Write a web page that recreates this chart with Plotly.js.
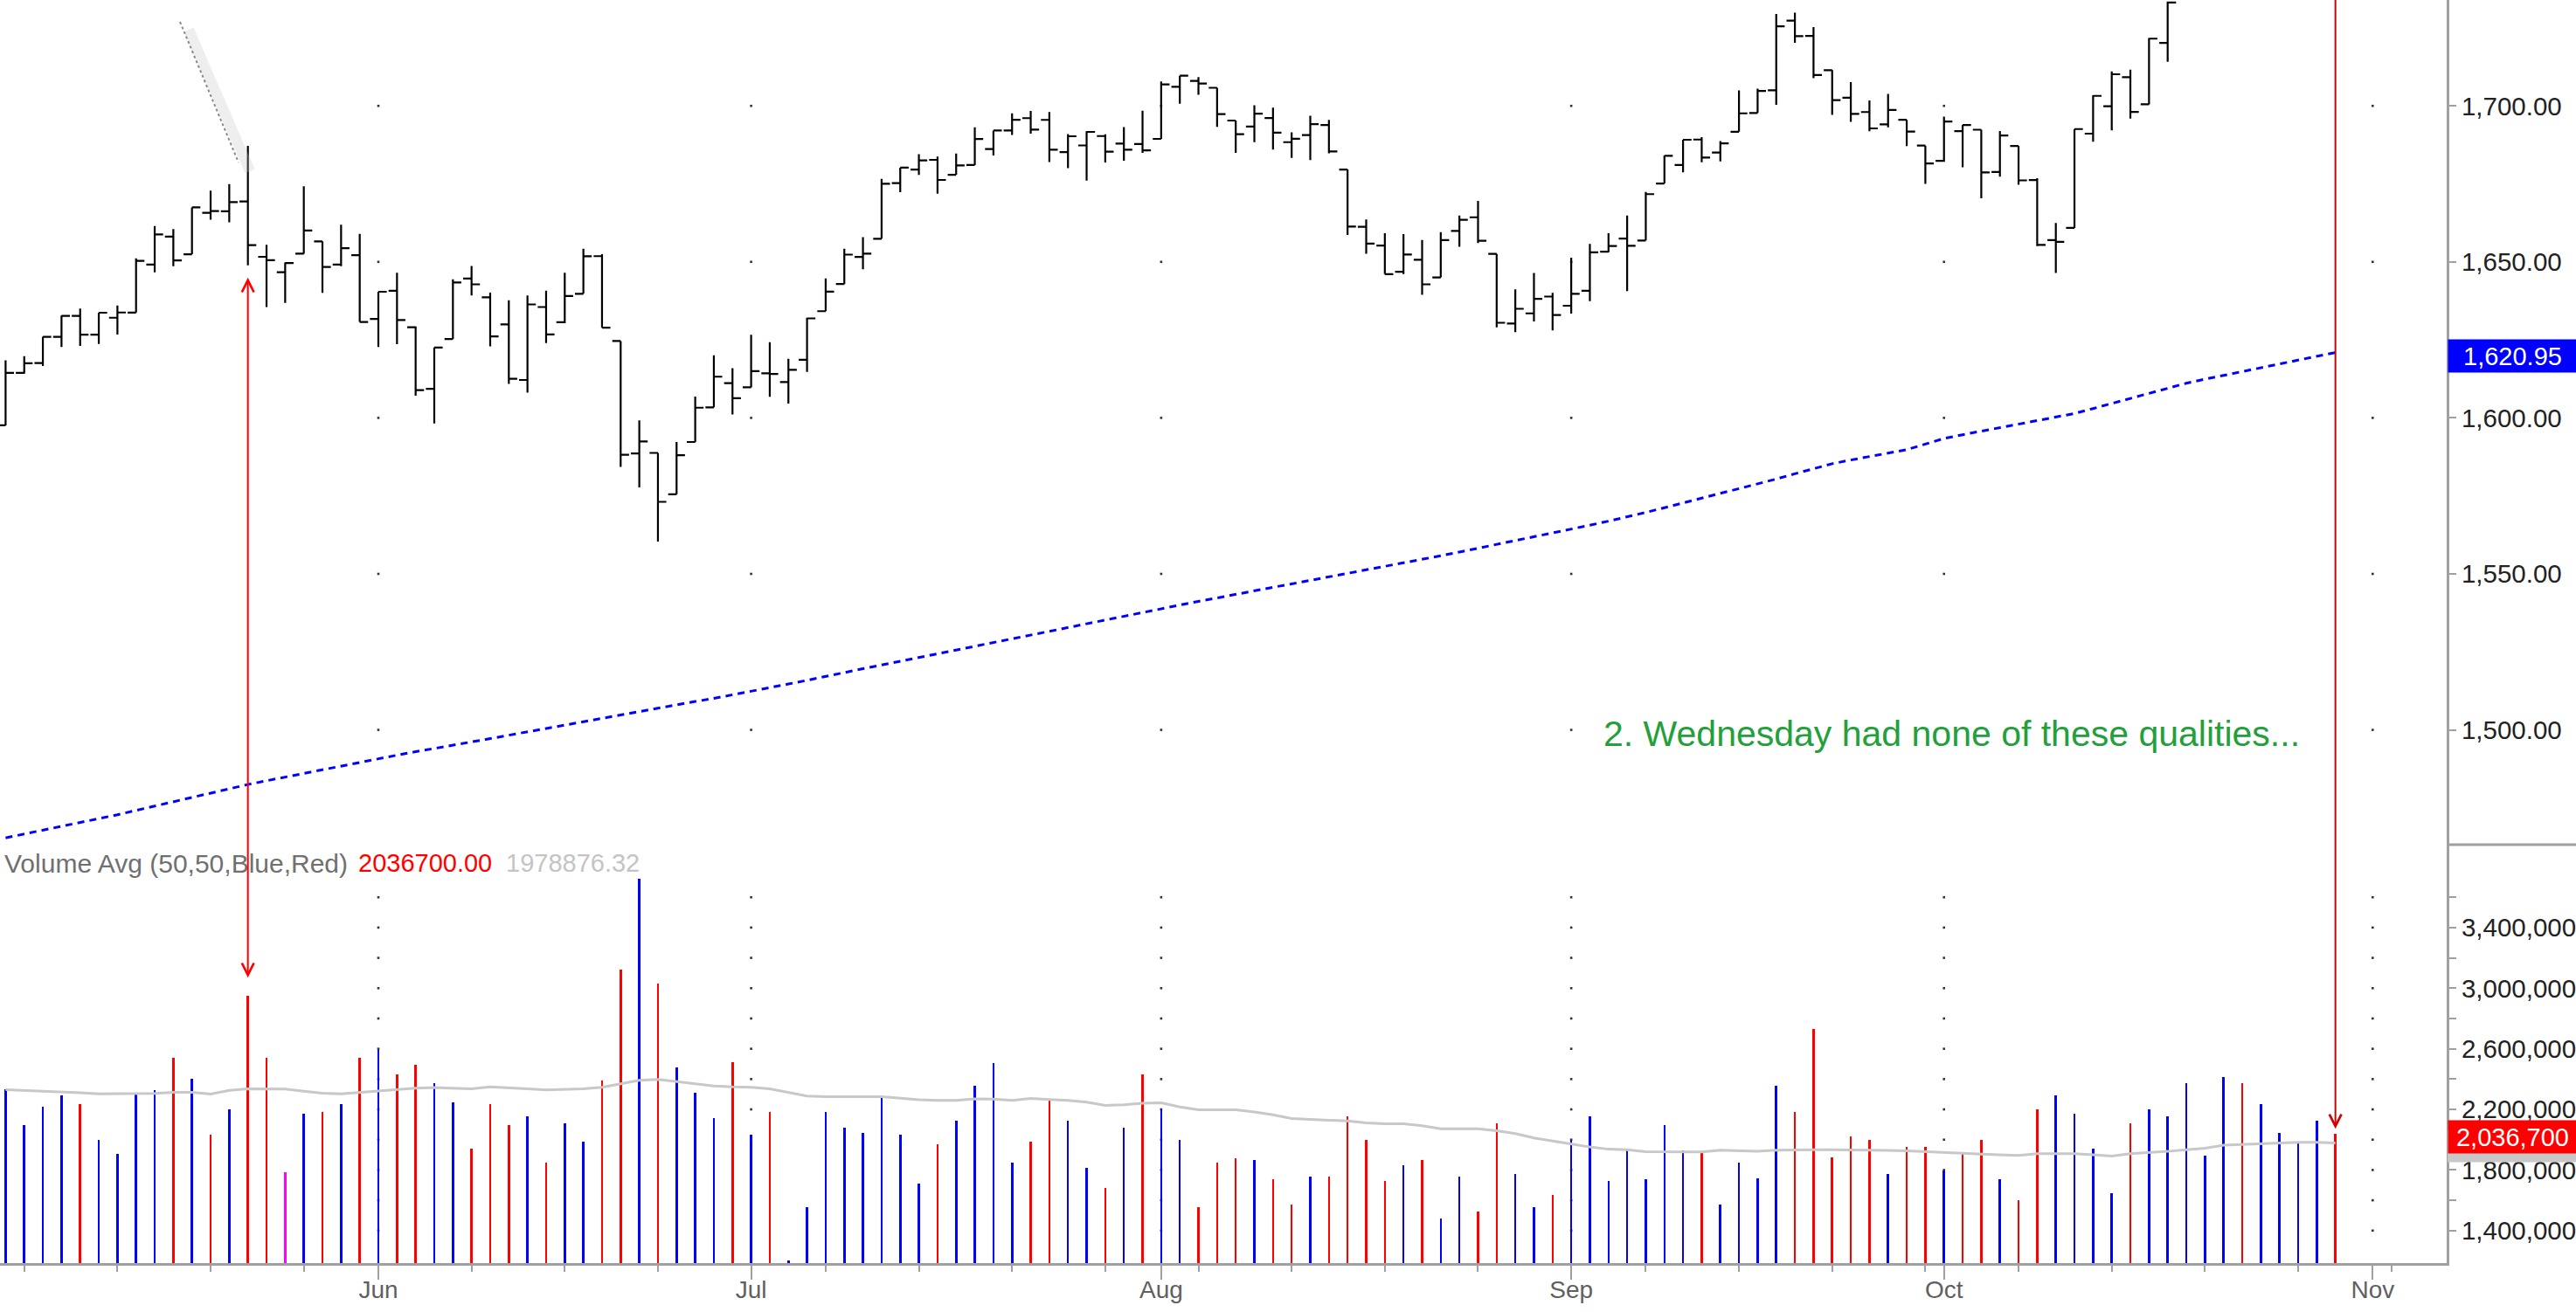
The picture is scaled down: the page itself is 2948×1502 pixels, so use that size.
<!DOCTYPE html>
<html><head><meta charset="utf-8">
<script src="https://cdn.plot.ly/plotly-3.0.1.min.js"></script>
<style>html,body{margin:0;padding:0;background:#fff}#chart{width:2948px;height:1502px}</style>
</head><body><div id="chart"></div>
<script>
// ---------- DATA ----------
const sessions = [
'2013-05-03','2013-05-06','2013-05-07','2013-05-08','2013-05-09','2013-05-10','2013-05-13','2013-05-14','2013-05-15','2013-05-16','2013-05-17','2013-05-20','2013-05-21','2013-05-22','2013-05-23','2013-05-24','2013-05-28','2013-05-29','2013-05-30','2013-05-31',
'2013-06-03','2013-06-04','2013-06-05','2013-06-06','2013-06-07','2013-06-10','2013-06-11','2013-06-12','2013-06-13','2013-06-14','2013-06-17','2013-06-18','2013-06-19','2013-06-20','2013-06-21','2013-06-24','2013-06-25','2013-06-26','2013-06-27','2013-06-28',
'2013-07-01','2013-07-02','2013-07-03','2013-07-05','2013-07-08','2013-07-09','2013-07-10','2013-07-11','2013-07-12','2013-07-15','2013-07-16','2013-07-17','2013-07-18','2013-07-19','2013-07-22','2013-07-23','2013-07-24','2013-07-25','2013-07-26','2013-07-29','2013-07-30','2013-07-31',
'2013-08-01','2013-08-02','2013-08-05','2013-08-06','2013-08-07','2013-08-08','2013-08-09','2013-08-12','2013-08-13','2013-08-14','2013-08-15','2013-08-16','2013-08-19','2013-08-20','2013-08-21','2013-08-22','2013-08-23','2013-08-26','2013-08-27','2013-08-28','2013-08-29','2013-08-30',
'2013-09-03','2013-09-04','2013-09-05','2013-09-06','2013-09-09','2013-09-10','2013-09-11','2013-09-12','2013-09-13','2013-09-16','2013-09-17','2013-09-18','2013-09-19','2013-09-20','2013-09-23','2013-09-24','2013-09-25','2013-09-26','2013-09-27','2013-09-30',
'2013-10-01','2013-10-02','2013-10-03','2013-10-04','2013-10-07','2013-10-08','2013-10-09','2013-10-10','2013-10-11','2013-10-14','2013-10-15','2013-10-16','2013-10-17','2013-10-18','2013-10-21','2013-10-22','2013-10-23','2013-10-24','2013-10-25','2013-10-28','2013-10-29','2013-10-30'];
const futureSessions = ['2013-10-31','2013-11-01','2013-11-04'];
const monthLabels = ['Jun','Jul','Aug','Sep','Oct','Nov'];

const open = [1597.60,1614.40,1617.55,1625.95,1632.69,1626.69,1632.10,1633.75,1649.13,1658.07,
1652.45,1665.71,1666.20,1669.39,1651.62,1646.67,1652.63,1656.57,1649.14,1652.13,
1631.71,1640.73,1629.05,1609.29,1625.27,1644.67,1638.64,1629.94,1612.15,1635.52,
1630.64,1639.77,1651.83,1624.62,1588.62,1588.77,1575.53,1592.27,1603.39,1611.12,
1609.78,1614.29,1611.48,1618.65,1634.20,1642.89,1651.56,1657.41,1675.26,1679.59,
1682.70,1677.91,1681.05,1686.15,1692.09,1696.06,1695.50,1685.21,1687.31,1690.32,
1687.92,1687.76,1689.42,1706.10,1708.01,1705.79,1695.30,1693.35,1696.10,1688.37,
1690.65,1693.88,1679.61,1661.22,1655.25,1646.81,1650.66,1645.03,1659.92,1664.29,
1652.54,1630.25,1633.50,1638.89,1635.95,1640.72,1653.28,1657.44,1656.85,1675.11,
1681.04,1689.21,1685.04,1691.70,1697.73,1704.97,1727.34,1722.44,1711.44,1702.60,
1698.02,1694.05,1695.52,1687.26,1682.41,1691.90,1692.35,1678.79,1687.15,1676.22,
1656.99,1660.88,1691.09,1699.86,1709.17,1700.49,1720.17,1736.72,1745.20,1746.48,
1752.27,1747.48,1756.01,1759.42,1762.93,1772.27];
const high = [1618.46,1619.77,1626.03,1632.78,1635.01,1633.70,1636.00,1651.10,1661.49,1660.51,
1667.47,1672.84,1674.93,1687.18,1655.50,1649.78,1674.21,1656.57,1661.91,1658.99,
1640.42,1646.53,1629.31,1622.56,1644.40,1648.69,1640.13,1637.71,1639.25,1640.80,
1646.50,1654.19,1652.45,1624.62,1599.19,1588.77,1592.28,1606.83,1620.07,1615.94,
1626.61,1624.26,1618.97,1632.07,1644.68,1654.18,1657.92,1676.63,1680.19,1684.51,
1683.73,1684.75,1693.12,1692.09,1697.61,1698.38,1698.00,1690.94,1691.85,1690.92,
1693.19,1698.43,1707.85,1709.67,1709.24,1705.79,1695.30,1700.18,1699.42,1691.49,
1696.81,1695.52,1679.61,1663.60,1659.18,1658.92,1656.99,1659.55,1664.85,1669.51,
1652.54,1641.18,1646.41,1640.08,1651.35,1655.72,1659.17,1664.83,1672.40,1684.09,
1689.13,1689.97,1688.73,1704.95,1705.52,1729.44,1729.86,1725.23,1711.44,1707.63,
1701.71,1703.85,1695.52,1687.26,1696.55,1693.87,1692.35,1691.94,1687.15,1676.79,
1662.47,1692.56,1703.44,1711.03,1711.57,1721.76,1733.45,1745.31,1747.79,1759.33,
1752.27,1753.94,1759.82,1764.99,1772.09,1775.22];
const low = [1597.60,1614.21,1616.64,1622.70,1623.09,1623.71,1626.74,1633.75,1646.68,1648.60,
1652.45,1663.52,1662.67,1648.86,1635.53,1636.88,1652.63,1640.05,1648.61,1630.74,
1622.72,1623.62,1607.09,1598.23,1625.27,1639.26,1622.92,1610.92,1608.07,1623.96,
1630.34,1639.77,1628.91,1584.32,1577.70,1560.33,1575.53,1592.27,1603.39,1601.06,
1609.78,1606.77,1604.57,1614.71,1634.20,1642.89,1647.66,1657.41,1672.33,1677.89,
1671.84,1677.91,1681.05,1684.08,1690.67,1691.13,1682.00,1680.07,1676.03,1681.86,
1682.42,1684.94,1689.42,1700.68,1703.55,1693.29,1684.91,1688.38,1686.02,1683.35,
1682.62,1684.83,1658.59,1652.61,1646.06,1646.08,1639.43,1645.03,1654.81,1656.02,
1629.05,1627.47,1630.88,1628.05,1633.41,1637.41,1653.07,1640.62,1656.85,1675.11,
1678.70,1681.96,1682.22,1691.70,1697.73,1700.35,1720.20,1708.89,1697.10,1694.90,
1691.88,1693.11,1687.11,1674.99,1682.07,1680.34,1670.36,1677.33,1674.70,1655.03,
1646.47,1660.88,1688.52,1692.13,1695.93,1700.49,1714.12,1735.74,1740.67,1746.48,
1740.50,1745.50,1752.45,1757.67,1762.93,1757.24];
const close = [1614.42,1617.50,1625.96,1632.69,1626.67,1633.70,1633.77,1650.34,1658.78,1650.47,
1667.47,1666.29,1669.16,1655.35,1650.51,1649.60,1660.06,1648.36,1654.41,1630.74,
1640.42,1631.38,1608.90,1622.56,1643.38,1642.81,1626.13,1612.52,1636.36,1626.73,
1639.04,1651.81,1628.93,1588.19,1592.43,1573.09,1588.03,1603.26,1613.20,1606.28,
1614.96,1614.08,1615.41,1631.89,1640.46,1652.32,1652.62,1675.02,1680.19,1682.50,
1676.26,1680.91,1689.37,1692.09,1695.53,1692.39,1685.94,1690.25,1691.65,1685.33,
1685.96,1685.73,1706.87,1709.67,1707.14,1697.37,1690.91,1697.48,1691.42,1689.47,
1694.16,1685.39,1661.32,1655.83,1646.06,1652.35,1642.80,1656.96,1663.50,1656.78,
1630.48,1634.96,1638.17,1632.97,1639.77,1653.08,1655.08,1655.17,1671.71,1683.99,
1689.13,1683.42,1687.99,1697.60,1704.76,1725.52,1722.34,1709.91,1701.84,1697.42,
1692.77,1698.67,1691.75,1681.55,1695.00,1693.87,1678.66,1690.50,1676.12,1655.45,
1656.40,1692.56,1703.20,1710.14,1698.06,1721.54,1733.15,1744.50,1744.66,1754.67,
1746.38,1752.07,1759.77,1762.11,1771.95,1763.31];

// long moving average of price (blue dotted)
const priceMA = [1465.4,1466.6,1467.8,1469.0,1470.2,1471.4,1472.8,1474.2,1475.6,1477.0,
1478.4,1479.8,1481.2,1482.5,1483.7,1484.9,1486.1,1487.3,1488.5,1489.6,
1490.8,1491.9,1493.0,1494.0,1495.1,1496.2,1497.2,1498.3,1499.4,1500.5,
1501.5,1502.6,1503.7,1504.8,1505.8,1506.9,1508.0,1509.1,1510.1,1511.2,
1512.3,1513.5,1514.7,1515.9,1517.2,1518.4,1519.6,1520.8,1522.0,1523.2,
1524.5,1525.7,1526.9,1528.1,1529.3,1530.5,1531.8,1533.0,1534.2,1535.4,
1536.6,1537.8,1539.0,1540.1,1541.2,1542.3,1543.5,1544.6,1545.7,1546.8,
1547.9,1549.0,1550.1,1551.3,1552.4,1553.5,1554.6,1555.8,1557.0,1558.2,
1559.5,1560.7,1561.9,1563.1,1564.3,1565.6,1566.9,1568.2,1569.7,1571.2,
1572.7,1574.2,1575.8,1577.3,1578.8,1580.4,1582.1,1583.7,1585.3,1586.5,
1587.6,1588.7,1589.8,1591.6,1593.4,1594.6,1595.7,1596.9,1598.1,1599.2,
1600.3,1601.4,1603.0,1604.6,1606.2,1607.8,1609.5,1611.1,1612.4,1613.6,
1614.8,1616.0,1617.3,1618.5,1619.7,1620.95];

const volume = [2330000,2094000,2218000,2295000,2233000,1999000,1908000,2309000,2326000,2539000,
2404000,2032000,2202000,2952000,2539000,1784000,2171000,2185000,2233000,2539000,
2594000,2433000,2495000,2371000,2247000,1941000,2233000,2094000,2156000,1851000,
2109000,1987000,2388000,3125000,3725000,3033000,2477000,2309000,2140000,2512000,
2032000,2185000,1200000,1555000,2185000,2078000,2047000,2280000,2032000,1710000,
1970000,2125000,2357000,2508000,1851000,1985000,2268000,2125000,1815000,1679000,
2078000,2433000,2202000,1999000,1557000,1851000,1879000,1865000,1741000,1572000,
1757000,1757000,2156000,1999000,1726000,1834000,1865000,1479000,1757000,1526000,
2109000,1772000,1557000,1634000,1999000,2156000,1726000,1927000,1741000,2094000,
1927000,1912000,1572000,1851000,1743000,2357000,2185000,2729000,1881000,2020000,
2001000,1772000,1954000,1954000,1799000,1912000,2001000,1741000,1603000,2202000,
2295000,2171000,1939000,1648000,2109000,2202000,2156000,2371000,1892000,2415000,
2371000,2233000,2047000,1985000,2125000,2036700];
// b = up (blue), r = down (red), m = magenta
const volumeDir = ['b','b','b','b','r','b','b','b','b','r',
'b','r','b','r','r','m','b','r','b','r',
'b','r','r','b','b','r','r','r','b','r',
'b','b','r','r','b','r','b','b','b','r',
'b','r','b','b','b','b','b','b','b','b',
'r','b','b','b','b','r','r','b','b','r',
'b','r','b','b','r','r','r','b','r','r',
'b','r','r','r','r','b','r','b','b','r',
'r','b','b','r','b','b','b','b','b','b',
'b','r','b','b','b','b','r','r','r','r',
'r','b','r','r','b','r','r','b','r','r',
'b','b','b','b','r','b','b','b','b','b',
'r','b','b','b','b','r'];
const volumeAvg = [2329800,2325700,2321600,2317400,2309200,2303000,2303000,2305100,2305100,2313300,
2313300,2300900,2325700,2336000,2336000,2334000,2319500,2307100,2303000,2313300,
2323600,2334000,2340200,2344300,2342200,2336000,2348500,2344300,2336000,2327800,
2331900,2336000,2346400,2367000,2391900,2398000,2383600,2369100,2354700,2348500,
2346400,2336000,2311200,2288500,2284400,2284400,2286400,2284400,2274000,2263700,
2259600,2259600,2269900,2267900,2259600,2272000,2265800,2259600,2247200,2226500,
2230700,2241000,2243100,2216200,2197600,2197600,2197600,2183100,2164500,2139700,
2133500,2129400,2123200,2110800,2104600,2104600,2092200,2071600,2071600,2071600,
2059200,2040600,2011600,1990900,1974400,1951700,1937200,1933100,1920700,1918700,
1918700,1918700,1930900,1928900,1922800,1930900,1933100,1933100,1933100,1933100,
1933100,1928900,1926900,1922800,1916600,1910400,1904200,1900000,1895900,1908300,
1908300,1908300,1900000,1891800,1908300,1914500,1922800,1933100,1943400,1964100,
1968200,1974400,1980600,1982700,1982700,1978876.32];

const priceTicks = [1500, 1550, 1600, 1650, 1700];
const volumeTicks = [1400000, 1800000, 2200000, 2600000, 3000000, 3400000];
const volumeMinorTicks = [1600000, 2000000, 2400000, 2800000, 3200000, 3600000];
const markedDay = '2013-05-22';
const noteText = '2. Wednesday had none of these qualities...';

// ---------- DERIVED ----------
const idx = sessions.map((d, i) => i);
const axisDates = sessions.concat(futureSessions);
const monthIdx = [], weekIdx = [];
axisDates.forEach((d, i) => {
  if (i === 0) return;
  const p = axisDates[i - 1];
  if (d.slice(5, 7) !== p.slice(5, 7)) monthIdx.push(i);
  const wd = new Date(d + 'T12:00:00Z').getUTCDay(), wp = new Date(p + 'T12:00:00Z').getUTCDay();
  if (wd < wp) weekIdx.push(i);
});
const dirColor = {b: '#0000ff', r: '#ff0000', m: '#ff00ff'};
const barColors = volumeDir.map(c => dirColor[c]);
const fmtP = v => v.toLocaleString('en-US', {minimumFractionDigits: 2, maximumFractionDigits: 2});
const fmtV = v => Math.round(v).toLocaleString('en-US');
const last = sessions.length - 1;
const mIdx = sessions.indexOf(markedDay);

const FONT = 'Liberation Sans, Arial, sans-serif';
const W = 2948, H = 1502, PR = 2800, PB = 1446; // plot area: x 0..2800, y 0..1446
const PX = x => x / PR, PY = y => (PB - y) / PB; // paper coords are relative to the plot area
const SPLIT = PY(967);
const VPP = (3947146 - 1185523) / (PB - 967); // volume units per pixel

const traces = [
  {type: 'bar', x: idx, y: volume, xaxis: 'x', yaxis: 'y2', width: 0.12,
   marker: {color: barColors, line: {width: 0}}, hoverinfo: 'skip', showlegend: false},
  {type: 'scatter', mode: 'lines', x: idx, y: volumeAvg, xaxis: 'x', yaxis: 'y2',
   line: {color: '#c8c8c8', width: 3}, hoverinfo: 'skip', showlegend: false},
  {type: 'ohlc', x: idx, open: open, high: high, low: low, close: close, xaxis: 'x', yaxis: 'y',
   increasing: {line: {color: '#000000', width: 2.2}}, decreasing: {line: {color: '#000000', width: 2.2}},
   tickwidth: 0.45, hoverinfo: 'skip', showlegend: false},
  {type: 'scatter', mode: 'lines', x: idx, y: priceMA, xaxis: 'x', yaxis: 'y',
   line: {color: '#0000ff', width: 3, dash: '8px,6px'}, hoverinfo: 'skip', showlegend: false}
];

// dotted grid: dots at month columns x price/volume levels
const shapes = [];
monthIdx.forEach(m => {
  priceTicks.forEach(p => shapes.push({type: 'rect', layer: 'below', xref: 'x', yref: 'y',
    xsizemode: 'pixel', ysizemode: 'pixel', xanchor: m, yanchor: p, x0: -1.3, x1: 1.3, y0: -1.3, y1: 1.3,
    fillcolor: '#333', line: {width: 0}}));
  volumeTicks.concat(volumeMinorTicks).forEach(v => shapes.push({type: 'rect', layer: 'below', xref: 'x', yref: 'y2',
    xsizemode: 'pixel', ysizemode: 'pixel', xanchor: m, yanchor: v, x0: -1.3, x1: 1.3, y0: -1.3, y1: 1.3,
    fillcolor: '#333', line: {width: 0}}));
});
// panel separator in the axis area
shapes.push({type: 'line', xref: 'paper', yref: 'paper', x0: 1, x1: PX(W), y0: SPLIT, y1: SPLIT,
  line: {color: '#a0a0a0', width: 3}});
// grey value box of the volume average (mostly hidden behind the red one)
shapes.push({type: 'rect', xref: 'paper', yref: 'y2', x0: PX(PR + 1), x1: PX(W),
  y0: volumeAvg[last] - 22 * VPP, y1: volumeAvg[last] + 15 * VPP, fillcolor: '#c8c8c8', line: {width: 0}});
// grey leader line (with faint shadow) at top-left
shapes.push({type: 'line', xref: 'paper', yref: 'paper', x0: PX(216), y0: PY(34), x1: PX(286), y1: PY(196),
  line: {color: 'rgba(200,200,200,0.3)', width: 12}});
shapes.push({type: 'line', xref: 'paper', yref: 'paper', x0: PX(206), y0: PY(25), x1: PX(273), y1: PY(186),
  line: {color: '#8a8a8a', width: 2, dash: 'dot'}});

const boxFont = {family: FONT, size: 29, color: '#ffffff'};
const annotations = [
  // value boxes on the right axis
  {xref: 'paper', x: PX(PR + 1), xanchor: 'left', yref: 'y', y: priceMA[last], yanchor: 'middle', yshift: -4,
   text: fmtP(priceMA[last]), showarrow: false, bgcolor: '#0000ff', width: 145, height: 35, borderpad: 1,
   align: 'center', font: boxFont},
  {xref: 'paper', x: PX(PR + 1), xanchor: 'left', yref: 'y2', y: volume[last], yanchor: 'middle', yshift: -3,
   text: fmtV(volume[last]), showarrow: false, bgcolor: '#ff0000', width: 145, height: 35, borderpad: 1,
   align: 'center', font: boxFont},
  // volume study label
  {xref: 'paper', yref: 'paper', x: PX(3), y: PY(988), xanchor: 'left', yanchor: 'middle', showarrow: false,
   text: 'Volume Avg (50,50,Blue,Red)', font: {family: FONT, size: 30, color: '#707070'}},
  {xref: 'paper', yref: 'paper', x: PX(408), y: PY(988), xanchor: 'left', yanchor: 'middle', showarrow: false,
   text: volume[last].toFixed(2), font: {family: FONT, size: 29, color: '#ff0000'}},
  {xref: 'paper', yref: 'paper', x: PX(577), y: PY(988), xanchor: 'left', yanchor: 'middle', showarrow: false,
   text: volumeAvg[last].toFixed(2), font: {family: FONT, size: 29, color: '#c4c4c4'}},
  // green note
  {xref: 'paper', yref: 'paper', x: PX(1833), y: PY(840), xanchor: 'left', yanchor: 'middle', showarrow: false,
   text: noteText, bgcolor: '#ffffff', font: {family: FONT, size: 41, color: '#23a03c'}},
  // red double arrow from the reversal bar down to its volume
  {xref: 'x', yref: 'y', x: mIdx, y: low[mIdx] - 3.9, axref: 'pixel', ayref: 'pixel', ax: 0, ay: 803,
   text: '', showarrow: true, arrowside: 'end+start', arrowhead: 5, startarrowhead: 5,
   arrowsize: 1.35, startarrowsize: 1.35, arrowwidth: 2, arrowcolor: '#ff0000', standoff: 0, startstandoff: 0},
  // red arrow down to the last bar's volume
  {xref: 'x', yref: 'y2', x: last, y: volume[last], yshift: 6, axref: 'pixel', ayref: 'pixel', ax: 0, ay: -1300,
   text: '', showarrow: true, arrowhead: 5, arrowsize: 1.35, arrowwidth: 2, arrowcolor: '#d00000', standoff: 0}
];

const tickFontY = {family: FONT, size: 29.5, color: '#222'};
const layout = {
  width: W, height: H,
  margin: {l: 0, r: W - PR, t: 0, b: H - PB, pad: 0, autoexpand: false},
  paper_bgcolor: '#ffffff', plot_bgcolor: '#ffffff',
  showlegend: false, hovermode: false, bargap: 0,
  xaxis: {
    range: [-0.3, 130.97], anchor: 'y2', tickmode: 'array', tickvals: monthIdx, ticktext: monthLabels,
    ticks: 'outside', ticklen: 16, tickwidth: 2, tickcolor: '#a0a0a0', automargin: false,
    ticklabelstandoff: -13,
    showline: true, linecolor: '#a0a0a0', linewidth: 3, showgrid: false, zeroline: false,
    tickfont: {family: FONT, size: 28, color: '#606060'},
    minor: {tickmode: 'array', tickvals: weekIdx, ticks: 'outside', ticklen: 7, tickwidth: 2, tickcolor: '#a0a0a0', showgrid: false},
    rangeslider: {visible: false}, fixedrange: true
  },
  yaxis: {
    domain: [SPLIT, 1], range: [1463.21, 1733.93], side: 'right', anchor: 'x', automargin: false,
    tickmode: 'array', tickvals: priceTicks, ticktext: priceTicks.map(fmtP),
    ticks: 'outside', ticklen: 8, tickwidth: 2, tickcolor: '#a0a0a0',
    showline: true, linecolor: '#a0a0a0', linewidth: 3, showgrid: false, zeroline: false,
    tickfont: tickFontY, fixedrange: true
  },
  yaxis2: {
    domain: [0, SPLIT], range: [1185523, 3947146], side: 'right', anchor: 'x', automargin: false,
    tickmode: 'array', tickvals: volumeTicks, ticktext: volumeTicks.map(fmtV),
    ticks: 'outside', ticklen: 8, tickwidth: 2, tickcolor: '#a0a0a0',
    minor: {tickmode: 'array', tickvals: volumeMinorTicks, ticks: 'outside', ticklen: 8, tickwidth: 2, tickcolor: '#a0a0a0', showgrid: false},
    showline: true, linecolor: '#a0a0a0', linewidth: 3, showgrid: false, zeroline: false,
    tickfont: tickFontY, fixedrange: true
  },
  shapes: shapes,
  annotations: annotations
};

Plotly.newPlot('chart', traces, layout, {displayModeBar: false, staticPlot: true});
</script>
</body></html>
